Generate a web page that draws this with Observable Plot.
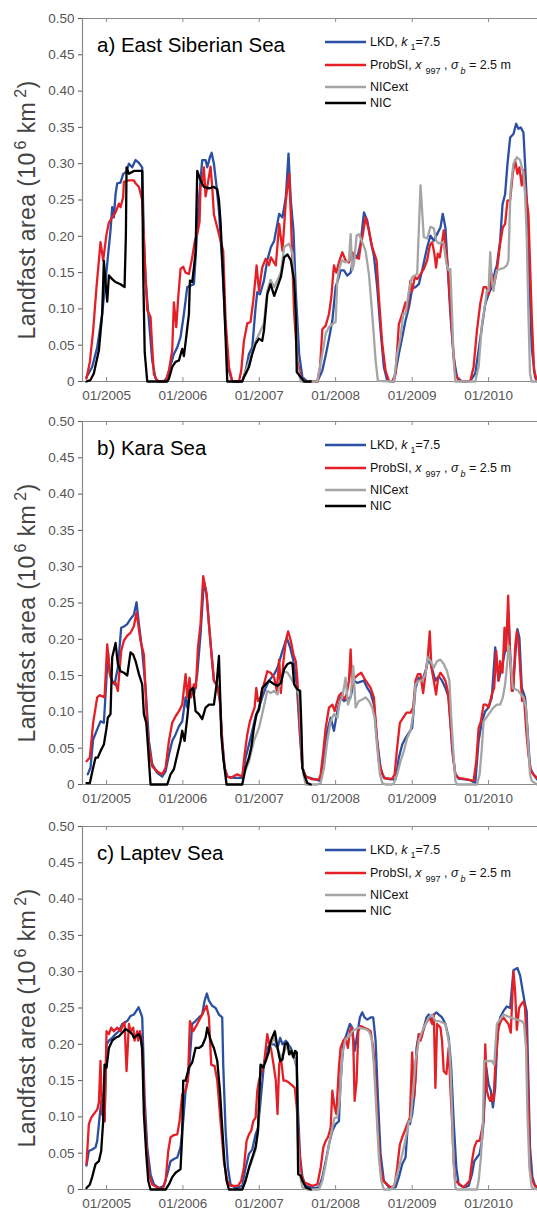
<!DOCTYPE html>
<html>
<head>
<meta charset="utf-8">
<script src="https://cdn.jsdelivr.net/npm/d3@7"></script>
<script src="https://cdn.jsdelivr.net/npm/@observablehq/plot@0.6"></script>
<style>
  html, body { margin: 0; padding: 0; background: #fff; }
  svg { display: block; }
</style>
</head>
<body>
<div id="chart"></div>
<script>
// ---------- axis data ----------
const yTicks = [0, 0.05, 0.10, 0.15, 0.20, 0.25, 0.30, 0.35, 0.40, 0.45, 0.50];
const tickYears = [2005, 2006, 2007, 2008, 2009, 2010];
const tickLabels = ["01/2005", "01/2006", "01/2007", "01/2008", "01/2009", "01/2010"];
const xStart = 2004.686, xEnd = 2010.641; // decimal years
const seriesNames = ["LKD", "ProbSI", "NICext", "NIC"];
const seriesColors = ["#2a4fa3", "#e41f26", "#a5a5a5", "#000000"];
const panelTitles = ["a) East Siberian Sea", "b) Kara Sea", "c) Laptev Sea"];

// ---------- series: [decimal year, area (10^6 km^2)] ----------
const essLKD = [[2004.738,.006],[2004.812,.02],[2004.878,.047],[2004.943,.093],[2004.987,.139],[2005.017,.171],[2005.052,.208],[2005.074,.24],[2005.096,.226],[2005.118,.258],[2005.140,.273],[2005.183,.274],[2005.218,.286],[2005.262,.289],[2005.293,.30],[2005.336,.295],[2005.380,.305],[2005.424,.301],[2005.467,.295],[2005.489,.2],[2005.511,.139],[2005.555,.084],[2005.598,.029],[2005.642,.004],[2005.686,0],[2005.751,0],[2005.795,.006],[2005.838,.022],[2005.882,.038],[2005.926,.047],[2005.969,.061],[2006.013,.093],[2006.057,.13],[2006.100,.132],[2006.144,.134],[2006.166,.17],[2006.188,.21],[2006.209,.25],[2006.253,.305],[2006.297,.305],[2006.319,.295],[2006.354,.309],[2006.376,.315],[2006.406,.30],[2006.441,.268],[2006.472,.235],[2006.515,.162],[2006.559,.07],[2006.603,.015],[2006.646,0],[2006.777,0],[2006.821,.015],[2006.865,.038],[2006.908,.047],[2006.952,.102],[2006.974,.123],[2007.009,.12],[2007.061,.139],[2007.105,.167],[2007.152,.185],[2007.196,.194],[2007.261,.231],[2007.304,.226],[2007.348,.254],[2007.383,.314],[2007.413,.249],[2007.448,.208],[2007.478,.125],[2007.522,.038],[2007.565,.006],[2007.630,0],[2007.761,0],[2007.826,.015],[2007.870,.036],[2007.913,.059],[2007.957,.084],[2008.0,.13],[2008.043,.144],[2008.065,.153],[2008.109,.153],[2008.152,.146],[2008.196,.15],[2008.239,.176],[2008.283,.171],[2008.326,.19],[2008.37,.233],[2008.413,.222],[2008.457,.194],[2008.5,.173],[2008.543,.13],[2008.587,.07],[2008.630,.02],[2008.674,.001],[2008.761,0],[2008.826,.038],[2008.870,.061],[2008.913,.084],[2008.957,.102],[2009.0,.128],[2009.043,.13],[2009.087,.134],[2009.130,.153],[2009.196,.185],[2009.239,.201],[2009.283,.194],[2009.326,.203],[2009.370,.212],[2009.4,.231],[2009.435,.212],[2009.465,.157],[2009.5,.093],[2009.543,.033],[2009.587,.006],[2009.652,0],[2009.761,.001],[2009.826,.011],[2009.870,.043],[2009.913,.075],[2009.957,.107],[2010.0,.12],[2010.043,.13],[2010.087,.153],[2010.109,.16],[2010.152,.194],[2010.183,.244],[2010.217,.258],[2010.248,.30],[2010.283,.336],[2010.326,.341],[2010.361,.355],[2010.391,.348],[2010.420,.35],[2010.457,.343],[2010.478,.30],[2010.5,.25],[2010.535,.139],[2010.565,.047],[2010.609,.006],[2010.635,0]];
const essProb = [[2004.738,.004],[2004.782,.027],[2004.825,.07],[2004.869,.13],[2004.921,.192],[2004.956,.167],[2005.0,.203],[2005.031,.219],[2005.074,.226],[2005.118,.233],[2005.162,.245],[2005.183,.24],[2005.218,.254],[2005.227,.275],[2005.290,.277],[2005.358,.277],[2005.38,.273],[2005.424,.268],[2005.467,.25],[2005.50,.17],[2005.533,.098],[2005.576,.089],[2005.598,.047],[2005.620,.01],[2005.664,.001],[2005.773,0],[2005.817,.015],[2005.860,.043],[2005.882,.109],[2005.913,.075],[2005.939,.116],[2005.969,.155],[2006.004,.158],[2006.035,.15],[2006.079,.148],[2006.122,.171],[2006.157,.194],[2006.188,.203],[2006.218,.22],[2006.231,.268],[2006.253,.275],[2006.275,.295],[2006.297,.255],[2006.319,.268],[2006.362,.296],[2006.384,.268],[2006.406,.23],[2006.450,.212],[2006.493,.194],[2006.528,.18],[2006.559,.084],[2006.603,.02],[2006.646,.001],[2006.734,0],[2006.764,.015],[2006.799,.056],[2006.843,.08],[2006.886,.082],[2006.921,.111],[2006.952,.144],[2006.965,.16],[2006.996,.125],[2007.039,.157],[2007.083,.169],[2007.127,.16],[2007.152,.171],[2007.217,.16],[2007.261,.217],[2007.304,.18],[2007.348,.249],[2007.391,.286],[2007.413,.231],[2007.435,.16],[2007.457,.093],[2007.5,.029],[2007.543,.006],[2007.587,.001],[2007.761,0],[2007.796,.02],[2007.826,.072],[2007.870,.077],[2007.913,.093],[2007.943,.116],[2007.978,.16],[2008.009,.15],[2008.043,.164],[2008.087,.178],[2008.130,.167],[2008.174,.164],[2008.217,.178],[2008.261,.171],[2008.304,.169],[2008.326,.187],[2008.361,.206],[2008.391,.226],[2008.435,.208],[2008.478,.185],[2008.535,.167],[2008.565,.116],[2008.609,.052],[2008.652,.015],[2008.696,.001],[2008.739,0],[2008.783,.011],[2008.826,.079],[2008.870,.093],[2008.913,.109],[2008.935,.098],[2008.978,.139],[2009.0,.125],[2009.035,.144],[2009.065,.141],[2009.109,.148],[2009.152,.155],[2009.196,.167],[2009.230,.187],[2009.261,.192],[2009.291,.176],[2009.313,.157],[2009.335,.176],[2009.361,.171],[2009.391,.192],[2009.413,.208],[2009.448,.176],[2009.47,.153],[2009.5,.102],[2009.535,.047],[2009.565,.011],[2009.609,.001],[2009.717,0],[2009.761,.001],[2009.804,.02],[2009.848,.07],[2009.891,.107],[2009.935,.13],[2009.970,.13],[2010.0,.12],[2010.043,.148],[2010.074,.134],[2010.109,.153],[2010.152,.19],[2010.187,.212],[2010.217,.217],[2010.248,.249],[2010.283,.25],[2010.317,.286],[2010.348,.305],[2010.378,.286],[2010.404,.295],[2010.435,.27],[2010.457,.291],[2010.478,.268],[2010.522,.231],[2010.565,.093],[2010.596,.015],[2010.635,.001]];
const essNICext = [[2006.777,0],[2006.843,.02],[2006.908,.04],[2006.952,.055],[2006.996,.065],[2007.061,.08],[2007.105,.125],[2007.148,.14],[2007.196,.13],[2007.283,.15],[2007.326,.185],[2007.391,.19],[2007.435,.176],[2007.457,.14],[2007.478,.09],[2007.5,.02],[2007.543,0],[2007.761,0],[2007.826,.038],[2007.870,.066],[2007.913,.075],[2007.957,.079],[2008.0,.082],[2008.022,.139],[2008.043,.153],[2008.065,.162],[2008.087,.167],[2008.130,.164],[2008.174,.167],[2008.196,.203],[2008.217,.153],[2008.239,.162],[2008.274,.201],[2008.304,.203],[2008.348,.192],[2008.391,.18],[2008.435,.148],[2008.478,.093],[2008.522,.029],[2008.552,.001],[2008.761,0],[2008.804,.038],[2008.848,.061],[2008.883,.093],[2008.913,.093],[2008.957,.125],[2009.0,.144],[2009.035,.146],[2009.065,.148],[2009.109,.27],[2009.152,.199],[2009.196,.197],[2009.239,.213],[2009.283,.211],[2009.313,.194],[2009.348,.19],[2009.391,.192],[2009.413,.19],[2009.448,.162],[2009.478,.153],[2009.5,.155],[2009.522,.093],[2009.543,.029],[2009.565,0],[2009.826,0],[2009.870,.02],[2009.913,.079],[2009.957,.107],[2009.978,.125],[2010.0,.125],[2010.022,.178],[2010.043,.139],[2010.065,.125],[2010.087,.144],[2010.109,.153],[2010.152,.155],[2010.196,.156],[2010.239,.16],[2010.261,.167],[2010.283,.25],[2010.291,.268],[2010.326,.30],[2010.370,.309],[2010.413,.305],[2010.457,.286],[2010.478,.259],[2010.5,.2],[2010.522,.093],[2010.543,.011],[2010.565,0],[2010.635,0]];
const essNIC = [[2004.738,0],[2004.79,.002],[2004.834,.011],[2004.900,.043],[2004.943,.093],[2004.965,.166],[2004.996,.125],[2005.009,.11],[2005.031,.146],[2005.074,.141],[2005.118,.137],[2005.183,.134],[2005.236,.13],[2005.253,.2],[2005.262,.295],[2005.293,.286],[2005.358,.29],[2005.467,.29],[2005.48,.15],[2005.50,.04],[2005.533,0],[2005.795,0],[2005.817,.004],[2005.860,.02],[2005.904,.027],[2005.948,.029],[2005.991,.045],[2006.013,.035],[2006.035,.054],[2006.079,.093],[2006.092,.139],[2006.122,.137],[2006.144,.157],[2006.166,.178],[2006.188,.29],[2006.231,.277],[2006.275,.268],[2006.341,.266],[2006.406,.268],[2006.450,.265],[2006.472,.25],[2006.493,.22],[2006.515,.17],[2006.537,.12],[2006.559,.06],[2006.581,0],[2006.777,0],[2006.799,.006],[2006.843,.015],[2006.865,.02],[2006.908,.038],[2006.952,.052],[2006.996,.059],[2007.039,.056],[2007.061,.07],[2007.105,.12],[2007.148,.134],[2007.196,.118],[2007.283,.144],[2007.326,.171],[2007.370,.175],[2007.413,.167],[2007.457,.139],[2007.478,.093],[2007.491,.013],[2007.543,.006],[2007.587,0],[2007.674,0]];

const karaLKD = [[2004.755,.014],[2004.790,.023],[2004.825,.062],[2004.878,.076],[2004.921,.087],[2004.965,.085],[2005.0,.147],[2005.017,.184],[2005.044,.152],[2005.074,.143],[2005.105,.138],[2005.148,.161],[2005.192,.216],[2005.236,.218],[2005.271,.221],[2005.314,.228],[2005.358,.234],[2005.393,.251],[2005.424,.221],[2005.467,.184],[2005.511,.133],[2005.555,.06],[2005.598,.028],[2005.664,.016],[2005.729,.011],[2005.773,.018],[2005.817,.041],[2005.860,.06],[2005.904,.069],[2005.948,.08],[2005.991,.087],[2006.035,.12],[2006.057,.106],[2006.100,.133],[2006.144,.124],[2006.188,.152],[2006.231,.207],[2006.275,.28],[2006.310,.262],[2006.341,.221],[2006.371,.184],[2006.406,.143],[2006.450,.136],[2006.485,.115],[2006.515,.06],[2006.546,.023],[2006.581,.011],[2006.668,.009],[2006.777,.009],[2006.821,.037],[2006.865,.055],[2006.908,.074],[2006.952,.094],[2006.996,.106],[2007.039,.12],[2007.083,.133],[2007.127,.143],[2007.196,.152],[2007.239,.161],[2007.304,.184],[2007.361,.202],[2007.404,.189],[2007.448,.17],[2007.491,.138],[2007.535,.064],[2007.565,.023],[2007.609,.011],[2007.696,.008],[2007.804,.005],[2007.848,.037],[2007.891,.074],[2007.935,.092],[2007.978,.074],[2008.022,.101],[2008.065,.12],[2008.109,.115],[2008.196,.12],[2008.239,.143],[2008.283,.14],[2008.37,.143],[2008.413,.133],[2008.457,.126],[2008.5,.11],[2008.543,.06],[2008.587,.023],[2008.630,.009],[2008.717,.007],[2008.783,.007],[2008.826,.037],[2008.870,.055],[2008.913,.064],[2008.957,.071],[2009.0,.078],[2009.043,.133],[2009.087,.147],[2009.130,.143],[2009.174,.156],[2009.217,.175],[2009.261,.159],[2009.304,.143],[2009.348,.149],[2009.391,.143],[2009.435,.133],[2009.478,.12],[2009.522,.051],[2009.565,.014],[2009.609,.008],[2009.761,.006],[2009.826,.002],[2009.870,.06],[2009.913,.087],[2009.957,.101],[2010.0,.106],[2010.043,.12],[2010.087,.189],[2010.130,.143],[2010.174,.161],[2010.217,.184],[2010.261,.234],[2010.283,.179],[2010.317,.129],[2010.348,.175],[2010.378,.214],[2010.404,.202],[2010.435,.133],[2010.478,.12],[2010.509,.078],[2010.543,.023],[2010.587,.014],[2010.635,.007]];
const karaProb = [[2004.738,.032],[2004.782,.037],[2004.825,.085],[2004.878,.12],[2004.913,.123],[2004.974,.12],[2005.009,.193],[2005.044,.152],[2005.074,.14],[2005.118,.14],[2005.148,.129],[2005.192,.184],[2005.227,.198],[2005.271,.205],[2005.314,.209],[2005.358,.218],[2005.393,.237],[2005.445,.198],[2005.489,.179],[2005.533,.078],[2005.555,.051],[2005.598,.025],[2005.664,.018],[2005.729,.014],[2005.773,.023],[2005.817,.06],[2005.860,.085],[2005.904,.094],[2005.948,.101],[2005.991,.11],[2006.035,.152],[2006.057,.12],[2006.087,.147],[2006.109,.12],[2006.144,.138],[2006.170,.133],[2006.197,.189],[2006.231,.221],[2006.266,.287],[2006.310,.262],[2006.341,.221],[2006.371,.184],[2006.406,.143],[2006.450,.136],[2006.485,.115],[2006.515,.06],[2006.546,.023],[2006.581,.011],[2006.624,.009],[2006.712,.014],[2006.777,.011],[2006.808,.041],[2006.843,.069],[2006.878,.087],[2006.908,.097],[2006.939,.106],[2006.961,.133],[2006.983,.115],[2007.017,.12],[2007.061,.138],[2007.105,.156],[2007.148,.154],[2007.196,.147],[2007.230,.129],[2007.261,.172],[2007.283,.126],[2007.317,.17],[2007.348,.198],[2007.378,.211],[2007.413,.198],[2007.448,.179],[2007.478,.17],[2007.5,.143],[2007.535,.069],[2007.565,.023],[2007.609,.011],[2007.696,.007],[2007.783,.007],[2007.804,.014],[2007.839,.046],[2007.870,.078],[2007.913,.106],[2007.957,.11],[2007.987,.101],[2008.009,.11],[2008.043,.122],[2008.074,.126],[2008.109,.117],[2008.143,.124],[2008.174,.143],[2008.196,.186],[2008.217,.133],[2008.248,.147],[2008.304,.152],[2008.335,.154],[2008.37,.147],[2008.413,.14],[2008.457,.133],[2008.5,.12],[2008.535,.069],[2008.565,.032],[2008.609,.014],[2008.652,.008],[2008.739,.008],[2008.770,.014],[2008.804,.051],[2008.839,.085],[2008.883,.092],[2008.926,.099],[2008.978,.099],[2009.013,.106],[2009.043,.143],[2009.074,.152],[2009.109,.152],[2009.143,.126],[2009.174,.152],[2009.204,.175],[2009.230,.211],[2009.252,.161],[2009.283,.143],[2009.313,.124],[2009.339,.147],[2009.370,.154],[2009.404,.149],[2009.435,.143],[2009.465,.129],[2009.5,.087],[2009.535,.037],[2009.565,.014],[2009.609,.009],[2009.717,.007],[2009.804,.005],[2009.839,.032],[2009.870,.078],[2009.9,.087],[2009.935,.11],[2009.970,.11],[2010.0,.106],[2010.043,.124],[2010.074,.133],[2010.1,.184],[2010.130,.143],[2010.152,.17],[2010.183,.154],[2010.209,.216],[2010.230,.184],[2010.257,.26],[2010.283,.175],[2010.304,.129],[2010.326,.133],[2010.348,.189],[2010.370,.211],[2010.391,.198],[2010.413,.161],[2010.439,.115],[2010.465,.12],[2010.491,.078],[2010.522,.041],[2010.557,.018],[2010.587,.014],[2010.635,.009]];
const karaNICext = [[2006.799,.014],[2006.865,.032],[2006.930,.06],[2006.996,.078],[2007.039,.097],[2007.105,.129],[2007.148,.126],[2007.196,.129],[2007.239,.124],[2007.283,.143],[2007.326,.156],[2007.370,.154],[2007.413,.147],[2007.457,.138],[2007.491,.131],[2007.522,.124],[2007.552,.06],[2007.578,.014],[2007.609,0],[2007.761,0],[2007.804,.002],[2007.848,.023],[2007.891,.06],[2007.935,.087],[2007.978,.097],[2008.022,.092],[2008.057,.115],[2008.087,.12],[2008.130,.147],[2008.161,.11],[2008.196,.12],[2008.230,.163],[2008.261,.106],[2008.304,.115],[2008.348,.117],[2008.391,.12],[2008.435,.115],[2008.478,.106],[2008.509,.092],[2008.543,.051],[2008.578,.014],[2008.609,.002],[2008.652,0],[2008.739,0],[2008.761,.002],[2008.804,.014],[2008.848,.032],[2008.891,.046],[2008.935,.064],[2008.978,.074],[2009.013,.097],[2009.043,.138],[2009.087,.143],[2009.130,.143],[2009.174,.152],[2009.204,.175],[2009.239,.17],[2009.283,.161],[2009.326,.17],[2009.370,.172],[2009.413,.166],[2009.457,.156],[2009.487,.143],[2009.509,.097],[2009.535,.051],[2009.565,.005],[2009.587,0],[2009.848,0],[2009.883,.014],[2009.913,.051],[2009.935,.087],[2009.970,.092],[2010.030,.101],[2010.065,.106],[2010.109,.11],[2010.152,.11],[2010.187,.12],[2010.217,.138],[2010.239,.161],[2010.265,.191],[2010.291,.166],[2010.317,.133],[2010.391,.129],[2010.422,.124],[2010.457,.12],[2010.491,.106],[2010.522,.051],[2010.543,.014],[2010.565,.005],[2010.635,0]];
const karaNIC = [[2004.738,.002],[2004.782,.002],[2004.825,.023],[2004.856,.037],[2004.886,.037],[2004.921,.046],[2004.965,.055],[2005.0,.078],[2005.017,.092],[2005.052,.097],[2005.074,.175],[2005.118,.195],[2005.148,.166],[2005.183,.156],[2005.227,.154],[2005.271,.15],[2005.314,.182],[2005.349,.179],[2005.380,.17],[2005.424,.152],[2005.467,.138],[2005.489,.097],[2005.520,.085],[2005.541,.055],[2005.576,0],[2005.795,0],[2005.838,.014],[2005.882,.021],[2005.926,.041],[2005.969,.06],[2005.991,.074],[2006.022,.06],[2006.057,.092],[2006.092,.129],[2006.135,.133],[2006.166,.101],[2006.210,.097],[2006.253,.09],[2006.297,.106],[2006.341,.11],[2006.406,.11],[2006.441,.138],[2006.472,.177],[2006.493,.106],[2006.502,.069],[2006.528,.037],[2006.572,0],[2006.777,0],[2006.821,.023],[2006.865,.037],[2006.895,.051],[2006.930,.078],[2006.965,.097],[2006.996,.103],[2007.039,.133],[2007.083,.138],[2007.127,.143],[2007.196,.138],[2007.239,.136],[2007.283,.14],[2007.326,.159],[2007.370,.166],[2007.413,.168],[2007.435,.166],[2007.457,.138],[2007.5,.131],[2007.535,.129],[2007.552,.078],[2007.565,.023],[2007.587,.014],[2007.630,.002],[2007.674,0]];

const lapLKD = [[2004.738,.033],[2004.769,.053],[2004.812,.055],[2004.856,.058],[2004.878,.067],[2004.913,.104],[2004.943,.131],[2004.974,.094],[2005.0,.20],[2005.031,.205],[2005.074,.209],[2005.118,.214],[2005.162,.218],[2005.205,.228],[2005.236,.23],[2005.271,.232],[2005.314,.239],[2005.358,.241],[2005.419,.251],[2005.445,.244],[2005.467,.237],[2005.480,.195],[2005.498,.127],[2005.533,.058],[2005.576,.021],[2005.620,.007],[2005.686,.002],[2005.751,.005],[2005.795,.021],[2005.838,.039],[2005.882,.042],[2005.926,.044],[2005.969,.058],[2006.004,.094],[2006.035,.136],[2006.079,.163],[2006.122,.228],[2006.166,.232],[2006.210,.237],[2006.253,.241],[2006.284,.26],[2006.314,.27],[2006.341,.26],[2006.384,.253],[2006.428,.25],[2006.472,.241],[2006.515,.237],[2006.528,.172],[2006.559,.081],[2006.590,.03],[2006.624,.007],[2006.690,.002],[2006.777,.005],[2006.821,.03],[2006.865,.049],[2006.908,.055],[2006.952,.076],[2006.983,.085],[2007.017,.122],[2007.061,.172],[2007.105,.195],[2007.148,.2],[2007.196,.2],[2007.239,.195],[2007.274,.209],[2007.304,.2],[2007.348,.205],[2007.378,.2],[2007.413,.195],[2007.457,.182],[2007.491,.168],[2007.509,.104],[2007.535,.044],[2007.565,.017],[2007.609,.005],[2007.717,.002],[2007.783,.003],[2007.826,.017],[2007.870,.039],[2007.913,.062],[2007.957,.081],[2008.0,.09],[2008.043,.094],[2008.065,.15],[2008.1,.2],[2008.143,.214],[2008.187,.228],[2008.217,.223],[2008.248,.191],[2008.283,.214],[2008.317,.237],[2008.348,.244],[2008.378,.237],[2008.413,.234],[2008.457,.237],[2008.491,.237],[2008.522,.205],[2008.552,.127],[2008.587,.049],[2008.630,.012],[2008.696,.003],[2008.783,.003],[2008.826,.017],[2008.870,.035],[2008.913,.044],[2008.943,.09],[2008.970,.09],[2009.0,.104],[2009.030,.131],[2009.057,.195],[2009.087,.214],[2009.117,.209],[2009.152,.223],[2009.187,.237],[2009.217,.241],[2009.248,.232],[2009.283,.241],[2009.317,.244],[2009.348,.241],[2009.391,.237],[2009.435,.228],[2009.478,.209],[2009.509,.172],[2009.543,.094],[2009.578,.03],[2009.609,.007],[2009.674,.003],[2009.739,.005],[2009.783,.021],[2009.813,.039],[2009.848,.044],[2009.883,.049],[2009.913,.067],[2009.935,.094],[2009.970,.168],[2010.0,.145],[2010.030,.136],[2010.057,.113],[2010.087,.14],[2010.117,.214],[2010.152,.237],[2010.196,.246],[2010.239,.252],[2010.283,.25],[2010.326,.302],[2010.378,.305],[2010.413,.295],[2010.448,.273],[2010.478,.255],[2010.5,.245],[2010.522,.15],[2010.543,.058],[2010.574,.017],[2010.609,.005],[2010.635,.003]];
const lapProb = [[2004.738,.035],[2004.769,.09],[2004.8,.099],[2004.834,.104],[2004.878,.11],[2004.9,.12],[2004.921,.177],[2004.943,.104],[2004.974,.094],[2005.0,.218],[2005.031,.214],[2005.061,.223],[2005.096,.218],[2005.140,.223],[2005.183,.218],[2005.218,.228],[2005.236,.23],[2005.262,.163],[2005.293,.228],[2005.314,.218],[2005.349,.223],[2005.367,.205],[2005.402,.218],[2005.415,.205],[2005.437,.218],[2005.454,.209],[2005.480,.163],[2005.498,.104],[2005.524,.058],[2005.555,.021],[2005.598,.007],[2005.664,.003],[2005.729,0],[2005.773,.012],[2005.808,.053],[2005.838,.072],[2005.882,.075],[2005.926,.076],[2005.956,.094],[2005.991,.131],[2006.035,.136],[2006.066,.15],[2006.092,.232],[2006.135,.218],[2006.188,.228],[2006.253,.241],[2006.310,.253],[2006.341,.237],[2006.371,.172],[2006.415,.17],[2006.450,.15],[2006.493,.094],[2006.537,.039],[2006.581,.012],[2006.624,.005],[2006.721,.005],[2006.764,.012],[2006.799,.03],[2006.834,.067],[2006.865,.076],[2006.895,.081],[2006.921,.094],[2006.952,.099],[2006.974,.136],[2006.996,.15],[2007.061,.172],[2007.105,.214],[2007.140,.195],[2007.152,.195],[2007.187,.172],[2007.217,.15],[2007.239,.104],[2007.261,.172],[2007.283,.182],[2007.317,.15],[2007.348,.15],[2007.391,.147],[2007.435,.143],[2007.465,.14],[2007.491,.113],[2007.522,.058],[2007.552,.021],[2007.587,.01],[2007.696,.005],[2007.761,.007],[2007.804,.03],[2007.839,.058],[2007.870,.067],[2007.9,.072],[2007.935,.085],[2007.957,.136],[2007.987,.113],[2008.009,.104],[2008.043,.168],[2008.065,.195],[2008.1,.205],[2008.130,.209],[2008.161,.195],[2008.187,.218],[2008.209,.223],[2008.230,.205],[2008.248,.122],[2008.274,.15],[2008.296,.218],[2008.326,.225],[2008.413,.221],[2008.457,.218],[2008.491,.195],[2008.522,.15],[2008.552,.081],[2008.587,.03],[2008.622,.012],[2008.717,.003],[2008.770,.005],[2008.804,.03],[2008.839,.062],[2008.870,.072],[2008.904,.081],[2008.935,.09],[2008.970,.099],[2009.0,.189],[2009.022,.127],[2009.043,.15],[2009.065,.195],[2009.087,.214],[2009.109,.205],[2009.143,.218],[2009.174,.228],[2009.230,.237],[2009.261,.228],[2009.283,.241],[2009.304,.14],[2009.326,.228],[2009.370,.223],[2009.391,.205],[2009.413,.163],[2009.448,.159],[2009.478,.195],[2009.5,.14],[2009.522,.094],[2009.543,.039],[2009.565,.012],[2009.674,.003],[2009.752,.012],[2009.783,.039],[2009.813,.058],[2009.848,.067],[2009.883,.067],[2009.935,.094],[2009.957,.2],[2009.978,.136],[2010.0,.127],[2010.022,.122],[2010.043,.131],[2010.065,.122],[2010.087,.168],[2010.130,.223],[2010.161,.232],[2010.196,.237],[2010.230,.232],[2010.261,.228],[2010.291,.216],[2010.326,.30],[2010.348,.273],[2010.370,.22],[2010.4,.25],[2010.426,.255],[2010.457,.259],[2010.478,.25],[2010.5,.2],[2010.526,.104],[2010.543,.03],[2010.574,.012],[2010.609,.005],[2010.635,.004]];
const lapNICext = [[2006.777,0],[2006.865,.028],[2006.952,.055],[2006.983,.078],[2007.017,.168],[2007.083,.175],[2007.127,.189],[2007.152,.2],[2007.196,.209],[2007.239,.195],[2007.283,.182],[2007.326,.189],[2007.370,.2],[2007.413,.186],[2007.457,.182],[2007.491,.172],[2007.5,.081],[2007.522,.026],[2007.565,.003],[2007.630,0],[2007.783,0],[2007.826,.012],[2007.870,.035],[2007.913,.062],[2007.957,.085],[2007.987,.099],[2008.022,.099],[2008.057,.127],[2008.087,.186],[2008.130,.207],[2008.174,.211],[2008.217,.218],[2008.304,.223],[2008.391,.221],[2008.435,.218],[2008.470,.209],[2008.5,.172],[2008.535,.104],[2008.565,.044],[2008.596,.012],[2008.630,0],[2008.717,0],[2008.761,.005],[2008.804,.021],[2008.848,.039],[2008.891,.058],[2008.926,.076],[2008.957,.094],[2008.978,.094],[2009.013,.136],[2009.043,.177],[2009.087,.205],[2009.130,.218],[2009.174,.228],[2009.217,.237],[2009.261,.241],[2009.304,.232],[2009.348,.232],[2009.435,.228],[2009.478,.205],[2009.5,.172],[2009.522,.104],[2009.543,.035],[2009.565,.003],[2009.587,0],[2009.848,0],[2009.870,.012],[2009.9,.044],[2009.926,.094],[2009.943,.177],[2010.043,.177],[2010.074,.172],[2010.109,.228],[2010.196,.241],[2010.283,.237],[2010.370,.234],[2010.435,.232],[2010.465,.228],[2010.491,.195],[2010.509,.104],[2010.535,.03],[2010.565,.003],[2010.635,0]];
const lapNIC = [[2004.738,.002],[2004.782,.007],[2004.812,.017],[2004.856,.035],[2004.9,.039],[2004.930,.053],[2004.956,.094],[2004.974,.172],[2005.0,.168],[2005.031,.195],[2005.074,.205],[2005.118,.209],[2005.162,.211],[2005.205,.216],[2005.249,.221],[2005.293,.218],[2005.336,.214],[2005.358,.209],[2005.380,.211],[2005.424,.214],[2005.445,.209],[2005.467,.195],[2005.489,.104],[2005.520,.049],[2005.546,.012],[2005.576,0],[2005.773,0],[2005.817,.007],[2005.860,.017],[2005.904,.023],[2005.969,.028],[2005.991,.076],[2006.004,.15],[2006.035,.15],[2006.079,.168],[2006.122,.175],[2006.166,.195],[2006.210,.195],[2006.253,.198],[2006.297,.209],[2006.319,.223],[2006.354,.209],[2006.384,.2],[2006.406,.195],[2006.450,.177],[2006.485,.136],[2006.515,.085],[2006.546,.035],[2006.572,.012],[2006.603,0],[2006.777,0],[2006.821,.012],[2006.865,.03],[2006.908,.044],[2006.952,.058],[2006.983,.081],[2007.017,.172],[2007.052,.168],[2007.083,.177],[2007.127,.191],[2007.152,.205],[2007.204,.218],[2007.239,.195],[2007.274,.177],[2007.304,.179],[2007.335,.2],[2007.370,.202],[2007.391,.186],[2007.422,.191],[2007.448,.182],[2007.470,.191],[2007.491,.189],[2007.5,.104],[2007.509,.021],[2007.543,.019],[2007.565,.012],[2007.609,.003],[2007.674,0]];

// ---------- helpers ----------
function toDate(t) {
  const y = Math.floor(t);
  const s = Date.UTC(y, 0, 1), e = Date.UTC(y + 1, 0, 1);
  return new Date(s + (t - y) * (e - s));
}
const xDomain = [toDate(xStart), toDate(xEnd)];
const tickDates = tickYears.map(y => toDate(y));

const panels = [
  {title: panelTitles[0], height: 403, series: [essLKD, essProb, essNICext, essNIC]},
  {title: panelTitles[1], height: 405, series: [karaLKD, karaProb, karaNICext, karaNIC]},
  {title: panelTitles[2], height: 402, series: [lapLKD, lapProb, lapNICext, lapNIC]}
];

const FONT = "'Liberation Sans', Arial, Helvetica, sans-serif";
const MT = 18, ZERO = 381;

const root = document.getElementById("chart");

panels.forEach(p => {
  const chart = Plot.plot({
    width: 537,
    height: p.height,
    marginLeft: 82,
    marginRight: 0,
    marginTop: MT,
    marginBottom: p.height - ZERO,
    style: {fontFamily: FONT, fontSize: "13.5px", color: "#555", background: "#fff", overflow: "visible"},
    x: {type: "utc", domain: xDomain, ticks: tickDates, tickSize: 0, tickPadding: 9,
        tickFormat: d => tickLabels[tickYears.indexOf(d.getUTCFullYear())], label: null},
    y: {domain: [0, 0.5], ticks: yTicks, tickSize: 4, tickPadding: 4,
        tickFormat: d => d === 0 ? "0" : d.toFixed(2), label: null},
    marks: [
      Plot.ruleX([xDomain[0]], {stroke: "#8a8a8a", strokeWidth: 1.2}),
      Plot.ruleY([0, 0.5], {stroke: "#8a8a8a", strokeWidth: 1.2}),
      Plot.ruleX(tickDates, {y1: 0, y2: 0.0055, stroke: "#8a8a8a"}),
      Plot.ruleX(tickDates, {y1: 0.5, y2: 0.4945, stroke: "#8a8a8a"}),
      ...p.series.map((s, i) => Plot.line(s, {
        x: d => toDate(d[0]), y: d => d[1],
        stroke: seriesColors[i], strokeWidth: 2.3, strokeLinejoin: "round", strokeLinecap: "round"
      }))
    ]
  });

  const svg = d3.select(chart);
  // panel title
  svg.append("text")
    .attr("x", 97).attr("y", MT + 34)
    .attr("text-anchor", "start")
    .attr("font-family", FONT).attr("font-size", 20.5).attr("fill", "#000")
    .text(p.title);

  // y label
  const yl = svg.append("text")
    .attr("transform", `translate(35, ${MT + 192}) rotate(-90)`)
    .attr("text-anchor", "middle")
    .attr("font-family", FONT).attr("font-size", 23).attr("fill", "#444")
    .attr("letter-spacing", 0.4);
  yl.append("tspan").text("Landfast area (10");
  yl.append("tspan").attr("font-size", 16).attr("dx", 3).attr("dy", -9).text("6");
  yl.append("tspan").attr("dy", 9).text(" km");
  yl.append("tspan").attr("font-size", 16).attr("dx", 4).attr("dy", -9).text("2");
  yl.append("tspan").attr("dy", 9).text(")");

  // legend
  const rows = [24, 47, 69, 85];
  const lg = svg.append("g").attr("font-family", FONT).attr("font-size", 12.5)
    .attr("fill", "#111").attr("text-anchor", "start");
  rows.forEach((r, i) => {
    lg.append("line").attr("x1", 325).attr("x2", 366).attr("y1", MT + r).attr("y2", MT + r)
      .attr("stroke", seriesColors[i]).attr("stroke-width", 2.6);
  });
  const t1 = lg.append("text").attr("x", 370).attr("y", MT + rows[0] + 4);
  t1.append("tspan").text("LKD, ");
  t1.append("tspan").attr("font-style", "italic").text("k");
  t1.append("tspan").attr("font-size", 9).attr("dx", 3).attr("dy", 4).text("1");
  t1.append("tspan").attr("dy", -4).text("=7.5");
  const t2 = lg.append("text").attr("x", 370).attr("y", MT + rows[1] + 4);
  t2.append("tspan").text("ProbSI, ");
  t2.append("tspan").attr("font-style", "italic").text("x");
  t2.append("tspan").attr("font-size", 9).attr("dx", 4).attr("dy", 5).text("997");
  t2.append("tspan").attr("dy", -5).text(" , ");
  t2.append("tspan").attr("font-style", "italic").text("σ");
  t2.append("tspan").attr("font-size", 9).attr("font-style", "italic").attr("dx", 2).attr("dy", 5).text("b");
  t2.append("tspan").attr("dy", -5).text(" = 2.5 m");
  lg.append("text").attr("x", 370).attr("y", MT + rows[2] + 4).text(seriesNames[2]);
  lg.append("text").attr("x", 370).attr("y", MT + rows[3] + 4).text(seriesNames[3]);

  root.appendChild(chart);
});
</script>
</body>
</html>
